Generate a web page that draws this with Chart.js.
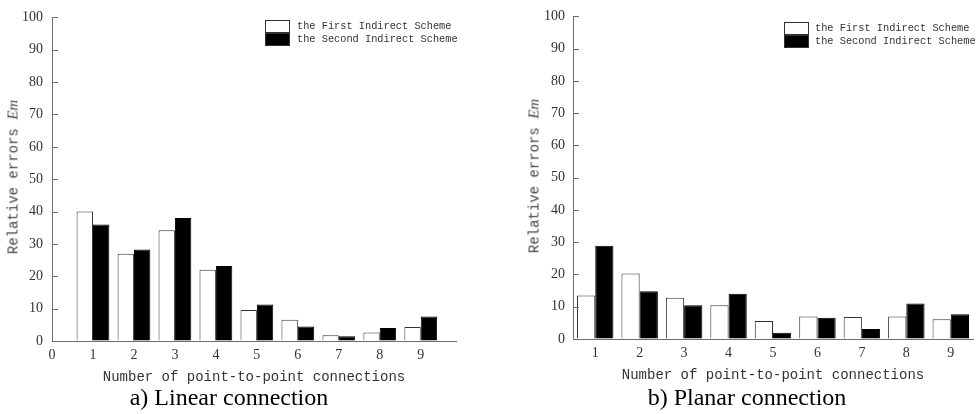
<!DOCTYPE html>
<html>
<head>
<meta charset="utf-8">
<script src="https://cdn.jsdelivr.net/npm/chart.js@4"></script>
<style>
  body { margin: 0; background: #fff; width: 980px; height: 414px; position: relative; overflow: hidden; }
  canvas { position: absolute; top: 0; }
  .txt { position: absolute; white-space: nowrap; color: #333; }
  .mono { font-family: "Liberation Mono", "DejaVu Sans Mono", monospace; }
  .ytitle { font-size: 14px; color: #444; transform: translate(-50%, -50%) rotate(-90deg); }
  .ytitle i { font-family: "Liberation Serif", serif; font-size: 15px; }
  .cap { font-family: "Liberation Serif", serif; font-size: 24px; color: #000; transform: translateX(-50%); }
  .box { position: absolute; width: 23px; height: 11px; border: 1px solid #333; }
  .leg { font-size: 10.3px; line-height: 12px; }
</style>
</head>
<body>
<canvas id="chartA" width="490" height="414" style="left:0"></canvas>
<canvas id="chartB" width="490" height="414" style="left:490px"></canvas>

<div class="txt mono ytitle" style="left:13px; top:177px">Relative errors <i>Em</i></div>
<div class="txt mono ytitle" style="left:534px; top:176px">Relative errors <i>Em</i></div>

<div class="box" style="left:265px; top:20px; background:#fff"></div>
<div class="box" style="left:265px; top:33px; background:#000"></div>
<div class="txt mono leg" style="left:297px; top:20px">the First Indirect Scheme</div>
<div class="txt mono leg" style="left:297px; top:33px">the Second Indirect Scheme</div>

<div class="box" style="left:784px; top:22px; background:#fff"></div>
<div class="box" style="left:784px; top:35px; background:#000"></div>
<div class="txt mono leg" style="left:815px; top:22px">the First Indirect Scheme</div>
<div class="txt mono leg" style="left:815px; top:35px">the Second Indirect Scheme</div>

<div class="txt cap" style="left:229px; top:384px">a) Linear connection</div>
<div class="txt cap" style="left:747px; top:384px">b) Planar connection</div>

<script>
  // valores
  const connections = [1, 2, 3, 4, 5, 6, 7, 8, 9];
  const linearTicks = [0, 1, 2, 3, 4, 5, 6, 7, 8, 9];
  const linearFirst  = [40, 27, 34.2, 22, 9.6, 6.6, 1.8, 2.6, 4.3];
  const linearSecond = [36, 28.3, 38, 23.2, 11.3, 4.5, 1.5, 4.0, 7.6];
  const planarFirst  = [13.5, 20.3, 12.8, 10.5, 5.6, 7.0, 6.8, 7.0, 6.1];
  const planarSecond = [28.9, 14.8, 10.5, 14.0, 1.9, 6.6, 3.1, 11.0, 7.7];
  const yMax = 100;

  const AXIS = "#6e6e6e";
  const TICKFONT = { family: "'Liberation Serif', serif", size: 14 };

  // ticks internos (maior a cada 10, menor a cada 5)
  const innerTicks = {
    id: "innerTicks",
    afterDraw(chart) {
      const y = chart.scales.y, ctx = chart.ctx, left = chart.chartArea.left;
      ctx.save();
      ctx.strokeStyle = AXIS;
      ctx.lineWidth = 1;
      y.ticks.forEach((t) => {
        const py = Math.round(y.getPixelForValue(t.value)) + 0.5;
        const len = t.value % 10 === 0 ? 6 : 3;
        ctx.beginPath();
        ctx.moveTo(left, py);
        ctx.lineTo(left + len, py);
        ctx.stroke();
      });
      ctx.restore();
    }
  };

  function yScale(width, pad) {
    return {
      min: 0, max: yMax,
      ticks: { stepSize: 5, padding: pad, color: "#333", font: TICKFONT,
               callback: (v) => (v % 10 === 0 ? v : "") },
      grid: { drawOnChartArea: false, drawTicks: false },
      border: { display: true, color: AXIS, width: 1 },
      afterFit(s) { s.width = width; }
    };
  }

  function xTitle() {
    return {
      display: true, text: "Number of point-to-point connections", color: "#333",
      font: { family: "'Liberation Mono', monospace", size: 14 }, padding: { bottom: 5 }
    };
  }

  function datasets(first, second, pct, asXY) {
    const pts = (arr) => asXY ? arr.map((v, i) => ({ x: connections[i], y: v })) : arr;
    return [
      { label: "the First Indirect Scheme", data: pts(first), backgroundColor: "#fff",
        borderColor: "#333", borderWidth: 1, categoryPercentage: pct, barPercentage: 1 },
      { label: "the Second Indirect Scheme", data: pts(second), backgroundColor: "#000",
        borderColor: "#000", borderWidth: 1, categoryPercentage: pct, barPercentage: 1 }
    ];
  }

  const common = {
    responsive: false,
    animation: false,
    plugins: { legend: { display: false }, tooltip: { enabled: false } }
  };

  // a) ligação linear: eixo x linear começando em 0
  new Chart(document.getElementById("chartA"), {
    type: "bar",
    data: { datasets: datasets(linearFirst, linearSecond, 0.8, true) },
    options: {
      ...common,
      layout: { padding: { top: 14, right: 34, bottom: 23, left: 0 } },
      scales: {
        x: {
          type: "linear", min: 0, max: 9.86, offset: false,
          ticks: { color: "#333", font: TICKFONT, padding: 6, autoSkip: false },
          afterBuildTicks(s) { s.ticks = linearTicks.map((v) => ({ value: v })); },
          grid: { drawOnChartArea: false, drawTicks: false, offset: false },
          border: { display: true, color: AXIS, width: 1 },
          title: xTitle(),
          afterFit(s) { s.height = 50; }
        },
        y: yScale(52, 9)
      }
    },
    plugins: [innerTicks]
  });

  // b) ligação planar: eixo de categorias
  new Chart(document.getElementById("chartB"), {
    type: "bar",
    data: { labels: connections.map(String), datasets: datasets(planarFirst, planarSecond, 0.82, false) },
    options: {
      ...common,
      layout: { padding: { top: 15, right: 7, bottom: 25, left: 0 } },
      scales: {
        x: {
          ticks: { padding: 6, color: "#333", font: TICKFONT },
          grid: { drawOnChartArea: false, drawTicks: false },
          border: { display: true, color: AXIS, width: 1 },
          title: xTitle(),
          afterFit(s) { s.height = 50; }
        },
        y: yScale(83, 8)
      }
    },
    plugins: [innerTicks]
  });
</script>
</body>
</html>
